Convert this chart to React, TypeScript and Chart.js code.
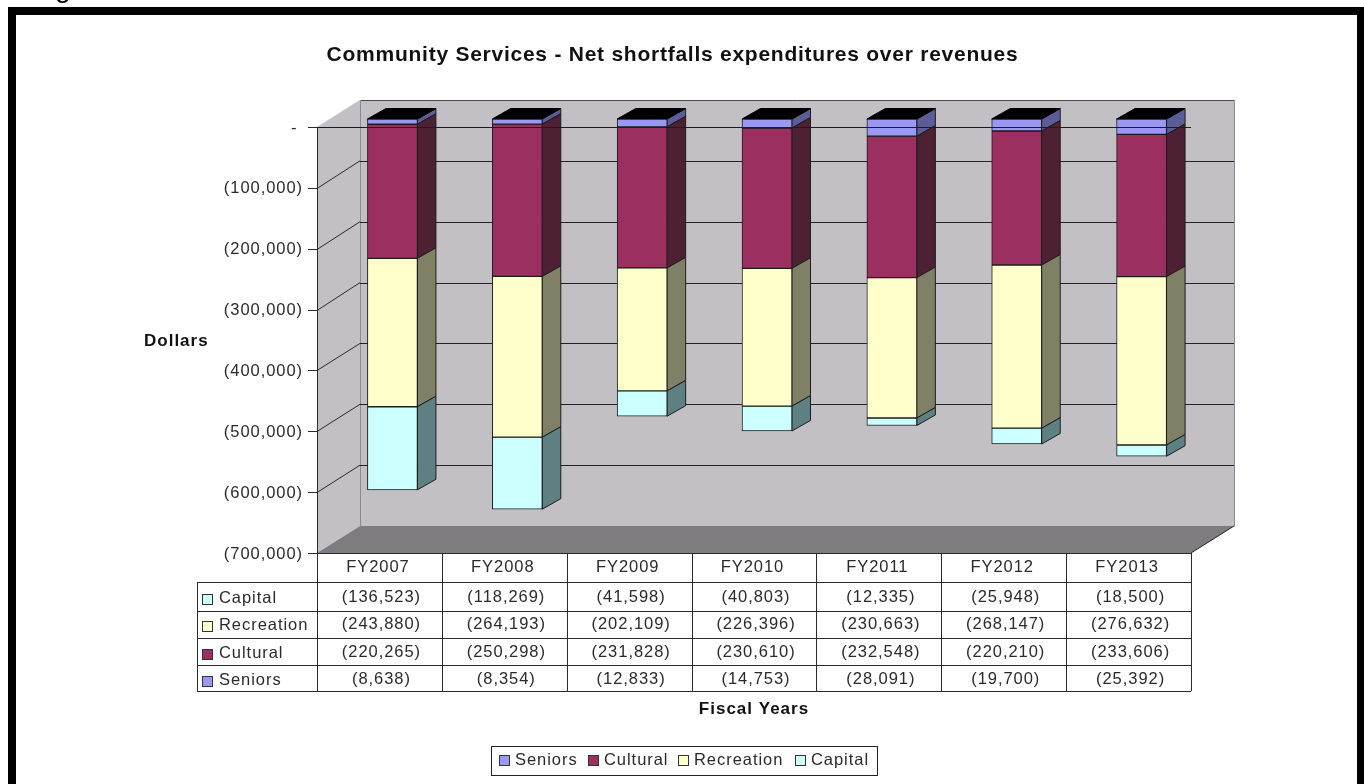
import { useEffect, useRef } from "react";
import { Chart, registerables } from "chart.js";

Chart.register(...registerables);

const fiscalYears = ["FY2007", "FY2008", "FY2009", "FY2010", "FY2011", "FY2012", "FY2013"];
const seniors = [-8638, -8354, -12833, -14753, -28091, -19700, -25392];
const cultural = [-220265, -250298, -231828, -230610, -232548, -220210, -233606];
const recreation = [-243880, -264193, -202109, -226396, -230663, -268147, -276632];
const capital = [-136523, -118269, -41598, -40803, -12335, -25948, -18500];

const seriesNames = ["Seniors", "Cultural", "Recreation", "Capital"];
const seriesValues = [seniors, cultural, recreation, capital];
const frontColors = ["#9999F4", "#9B2F5F", "#FFFFCC", "#CCFFFF"];
const sideColors = ["#5C5C99", "#4E2033", "#808066", "#5F8082"];

const chartTitle = "Community Services - Net shortfalls expenditures over revenues";
const yTitle = "Dollars";
const xTitle = "Fiscal Years";

const FAMILY = '"Liberation Sans", Arial, sans-serif';
const INK = "#2a2a2a";
const LABEL_SIZE = 16.5;
const LABEL_FONT = `${LABEL_SIZE}px ${FAMILY}`;
const LABEL_SPACING = "0.95px";

// The plot box is a shallow 3D room: the back wall sits up and to the right of the front plane.
const ROOM_DX = 43;
const ROOM_DY = -27;
// Bars stand part way into the room and have their own depth.
const BAR_DX = 13;
const BAR_DY = -8;
const BAR_DEPTH_X = 18.5;
const BAR_DEPTH_Y = -10.5;

const money = (v: number) => `(${Math.abs(v).toLocaleString("en-US")})`;
const crisp = (v: number) => Math.round(v) + 0.5;

function label(
  ctx: CanvasRenderingContext2D,
  str: string,
  x: number,
  y: number,
  font = LABEL_FONT,
  align: CanvasTextAlign = "left",
  spacing = LABEL_SPACING,
  color = INK,
) {
  ctx.save();
  ctx.font = font;
  ctx.fillStyle = color;
  ctx.textAlign = align;
  ctx.textBaseline = "middle";
  (ctx as any).letterSpacing = spacing;
  ctx.fillText(str, x, y);
  ctx.restore();
}

function polygon(ctx: CanvasRenderingContext2D, pts: number[][], fill: string, stroke?: string) {
  ctx.beginPath();
  pts.forEach(([x, y], i) => (i ? ctx.lineTo(x, y) : ctx.moveTo(x, y)));
  ctx.closePath();
  ctx.fillStyle = fill;
  ctx.fill();
  if (stroke) {
    ctx.strokeStyle = stroke;
    ctx.lineWidth = 1;
    ctx.stroke();
  }
}

function segment(
  ctx: CanvasRenderingContext2D,
  x1: number,
  y1: number,
  x2: number,
  y2: number,
  color = "#2a2a2a",
) {
  ctx.beginPath();
  ctx.moveTo(x1, y1);
  ctx.lineTo(x2, y2);
  ctx.strokeStyle = color;
  ctx.lineWidth = 1;
  ctx.stroke();
}

function swatch(ctx: CanvasRenderingContext2D, x: number, y: number, color: string) {
  ctx.fillStyle = color;
  ctx.fillRect(x, y, 10, 10);
  ctx.strokeStyle = "#333";
  ctx.lineWidth = 1;
  ctx.strokeRect(x + 0.5, y + 0.5, 10, 10);
}

const roomPlugin = {
  id: "room",
  beforeDraw(chart: any) {
    const { ctx, chartArea: a, scales } = chart;
    const W = chart.width;
    ctx.save();
    ctx.fillStyle = "#fff";
    ctx.fillRect(0, 0, W, chart.height);

    // Tail of the heading line above the page frame.
    ctx.font = `28px ${FAMILY}`;
    ctx.fillStyle = "#000";
    ctx.textBaseline = "alphabetic";
    ctx.fillText("g", 55, -3);

    // Page frame: top, left and right bars only.
    ctx.fillStyle = "#000";
    ctx.fillRect(8, 7, W - 8, 8);
    ctx.fillRect(8, 7, 8, chart.height);
    ctx.fillRect(1357, 7, 7, chart.height);

    const backL = a.left + ROOM_DX;
    const backR = a.right + ROOM_DX;
    const backT = a.top + ROOM_DY;
    const backB = a.bottom + ROOM_DY;

    polygon(ctx, [[backL, backT], [backR, backT], [backR, backB], [backL, backB]], "#C3C0C5");
    polygon(ctx, [[a.left, a.top], [backL, backT], [backL, backB], [a.left, a.bottom]], "#C2C0C4");
    polygon(ctx, [[a.left, a.bottom], [backL, backB], [backR, backB], [a.right, a.bottom]], "#7F7C80");

    segment(ctx, crisp(backL), crisp(backT), crisp(backR), crisp(backT), "#4a4a4a");
    segment(ctx, crisp(backL), crisp(backT), crisp(backL), crisp(backB), "#8c8a8e");
    segment(ctx, crisp(backR), crisp(backT), crisp(backR), crisp(backB), "#8c8a8e");
    segment(ctx, crisp(a.left), a.top, backL, backT, "#d6d4d8");
    segment(ctx, a.right, a.bottom, backR, backB, "#222");
    segment(ctx, crisp(a.left), crisp(a.top), crisp(a.left), crisp(a.bottom));

    // Gridlines run along the side wall and across the back wall; tick marks sit on the front plane.
    scales.y.ticks.forEach((t: any) => {
      const y = scales.y.getPixelForValue(t.value);
      segment(ctx, a.left - 9, crisp(y), a.left, crisp(y));
      if (t.value === 0 || t.value === scales.y.min) return;
      segment(ctx, a.left, crisp(y), backL, y + ROOM_DY);
      segment(ctx, backL, crisp(y + ROOM_DY), backR, crisp(y + ROOM_DY), "#222");
    });
    ctx.restore();

    // Axis labels are painted next and share the spaced-out lettering of the table.
    ctx.letterSpacing = LABEL_SPACING;
  },
  beforeDatasetsDraw(chart: any) {
    const { ctx } = chart;
    ctx.letterSpacing = "0px";
    ctx.save();
    ctx.translate(BAR_DX, BAR_DY);
    seriesNames.forEach((_, s) => {
      chart.getDatasetMeta(s).data.forEach((bar: any) => {
        const { x, y, base, width } = bar.getProps(["x", "y", "base", "width"], true);
        const r = x + width / 2;
        const l = x - width / 2;
        polygon(
          ctx,
          [[r, base], [r + BAR_DEPTH_X, base + BAR_DEPTH_Y], [r + BAR_DEPTH_X, y + BAR_DEPTH_Y], [r, y]],
          sideColors[s],
          "#1c1c1c",
        );
        if (s === 0) {
          polygon(
            ctx,
            [[l, base], [l + BAR_DEPTH_X, base + BAR_DEPTH_Y], [r + BAR_DEPTH_X, base + BAR_DEPTH_Y], [r, base]],
            "#000",
            "#000",
          );
        }
      });
    });
  },
  afterDatasetsDraw(chart: any) {
    const { ctx, chartArea: a, scales } = chart;
    ctx.restore();

    // The zero axis lies on the front plane, in front of the bars.
    const zero = crisp(scales.y.getPixelForValue(0));
    segment(ctx, a.left, zero, a.right, zero, "#1c1c1c");

    // Data table below the plot.
    const rowEdges = [582, 611, 638, 665, 691];
    const rowText = [597, 624.5, 652, 679];
    const step = (a.right - a.left) / fiscalYears.length;
    const tableLeft = 197;
    const columnEdges = fiscalYears.map((_, i) => a.left + i * step).concat(a.right);
    ctx.save();
    columnEdges.forEach((x) => segment(ctx, crisp(x), a.bottom, crisp(x), rowEdges[4]));
    segment(ctx, a.left, crisp(a.bottom), a.right, crisp(a.bottom));
    segment(ctx, crisp(tableLeft), rowEdges[0], crisp(tableLeft), rowEdges[4]);
    rowEdges.forEach((y) => segment(ctx, tableLeft, crisp(y), a.right, crisp(y)));

    fiscalYears.forEach((year, i) => {
      label(ctx, year, scales.x.getPixelForTick(i) - 1.5, 567, LABEL_FONT, "center");
    });
    // Rows run from the bottom of each stack to its top.
    [3, 2, 1, 0].forEach((s, row) => {
      swatch(ctx, 202, Math.round(rowText[row] - 3.5), frontColors[s]);
      label(ctx, seriesNames[s], 219, rowText[row] + 1);
      seriesValues[s].forEach((v, i) => {
        label(ctx, money(v), scales.x.getPixelForTick(i) + 2, rowText[row], LABEL_FONT, "center");
      });
    });

    // Titles.
    label(ctx, chartTitle, 672.5, 55, `bold 21px ${FAMILY}`, "center", "0.75px", "#111");
    label(ctx, yTitle, 144, 341, `bold 17px ${FAMILY}`, "left", "1px", "#111");
    label(ctx, xTitle, 754, 709, `bold 17px ${FAMILY}`, "center", "1px", "#111");

    // Legend box.
    ctx.strokeStyle = "#222";
    ctx.lineWidth = 1;
    ctx.strokeRect(491.5, 746.5, 386, 29);
    const legendSwatch = [499, 588, 678, 795];
    seriesNames.forEach((name, s) => {
      swatch(ctx, legendSwatch[s], 755, frontColors[s]);
      label(ctx, name, legendSwatch[s] + 16, 760.5);
    });
    ctx.restore();
  },
};

export default function App() {
  const ref = useRef<HTMLCanvasElement>(null);

  useEffect(() => {
    const canvas = ref.current;
    if (!canvas) return;
    const chart = new Chart(canvas, {
      type: "bar",
      data: {
        labels: fiscalYears,
        datasets: seriesNames.map((name, s) => ({
          label: name,
          data: seriesValues[s],
          backgroundColor: frontColors[s],
          borderColor: "#1c1c1c",
          borderWidth: 1,
          borderSkipped: false,
          barThickness: 50,
          clip: false,
        })),
      },
      options: {
        responsive: false,
        animation: false,
        devicePixelRatio: 1,
        layout: { padding: { top: 127, bottom: 231, left: 0, right: 173 } },
        plugins: { legend: { display: false }, title: { display: false }, tooltip: { enabled: false } },
        scales: {
          x: { stacked: true, display: false },
          y: {
            stacked: true,
            min: -700000,
            max: 0,
            grid: { display: false, drawTicks: false },
            border: { display: false },
            afterFit(scale: any) {
              scale.width = 317;
            },
            ticks: {
              stepSize: 100000,
              padding: 14,
              labelOffset: 1,
              color: INK,
              font: { family: "Liberation Sans", size: LABEL_SIZE },
              callback: (v: any) => (Number(v) === 0 ? "- " : money(Number(v))),
            },
          },
        },
      },
      plugins: [roomPlugin],
    } as any);
    return () => chart.destroy();
  }, []);

  return (
    <canvas
      ref={ref}
      width={1364}
      height={784}
      style={{ position: "fixed", left: 0, top: 0, display: "block" }}
    />
  );
}
